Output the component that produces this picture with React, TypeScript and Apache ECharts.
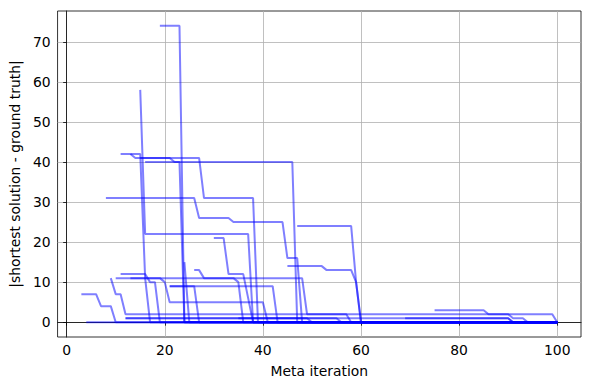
import React, { useEffect, useRef } from 'react';
import * as echarts from 'echarts';

const xTicks = [0, 20, 40, 60, 80, 100];
const yTicks = [0, 10, 20, 30, 40, 50, 60, 70];
const xName = 'Meta iteration';
const yName = '|shortest solution - ground truth|';

const run01 = [[19, 74], [23, 74], [24, 0], [100, 0]];
const run02 = [[15, 58], [16, 22], [37, 22], [38, 0], [100, 0]];
const run03 = [[11, 42], [15, 42], [16, 11], [17, 0], [100, 0]];
const run04 = [[13, 42], [14, 41], [21, 41], [22, 40], [23, 40], [24, 0], [100, 0]];
const run05 = [[15, 41], [27, 41], [28, 31], [38, 31], [39, 0], [100, 0]];
const run06 = [[16, 40], [46, 40], [47, 0], [100, 0]];
const run07 = [[8, 31], [26, 31], [27, 26], [33, 26], [34, 25], [44, 25], [45, 16], [47, 16], [48, 0], [100, 0]];
const run08 = [[47, 24], [58, 24], [59, 10], [60, 0], [100, 0]];
const run09 = [[45, 14], [52, 14], [53, 13], [58, 13], [59, 10], [60, 0], [100, 0]];
const run10 = [[30, 21], [32, 21], [33, 12], [36, 12], [37, 6], [38, 0], [100, 0]];
const run11 = [[26, 13], [27, 13], [28, 11], [34, 11], [35, 10], [36, 0], [100, 0]];
const run12 = [[21, 9], [42, 9], [43, 0], [100, 0]];
const run13 = [[13, 11], [19, 11], [20, 10], [21, 5], [40, 5], [41, 0], [100, 0]];
const run14 = [[10, 11], [48, 11], [49, 2], [57, 2], [58, 0], [100, 0]];
const run15 = [[11, 12], [16, 12], [17, 10], [18, 10], [19, 0], [100, 0]];
const run16 = [[3, 7], [6, 7], [7, 4], [9, 4], [10, 0], [100, 0]];
const run17 = [[4, 0], [100, 0]];
const run18 = [[9, 11], [10, 7], [11, 7], [12, 2], [99, 2], [100, 0]];
const run19 = [[12, 1], [55, 1], [56, 0], [100, 0]];
const run20 = [[69, 1], [90, 1], [91, 0], [100, 0]];
const run21 = [[75, 3], [85, 3], [86, 2], [90, 2], [91, 1], [93, 1], [94, 0], [100, 0]];
const run22 = [[24, 15], [25, 0], [100, 0]];
const run23 = [[21, 9], [26, 9], [27, 0], [100, 0]];
const run24 = [[35, 1], [49, 1], [50, 0], [100, 0]];
const run25 = [[12, 1], [90, 1], [91, 0], [100, 0]];

const runs = [
  run01, run02, run03, run04, run05, run06, run07, run08, run09, run10,
  run11, run12, run13, run14, run15, run16, run17, run18, run19, run20,
  run21, run22, run23, run24, run25,
];

const FONT = 'DejaVu Sans';

export default function App() {
  const ref = useRef<HTMLDivElement>(null);
  useEffect(() => {
    document.body.style.margin = '0';
    const chart = echarts.init(ref.current!, null, { renderer: 'svg' });
    const labelStyle = { color: '#000', fontSize: 13.9, fontFamily: FONT };
    chart.setOption({
      animation: false,
      backgroundColor: '#fff',
      grid: {
        left: 57, right: 9, top: 11, bottom: 53,
        show: true, borderColor: '#000', borderWidth: 0.8, backgroundColor: 'transparent',
      },
      xAxis: {
        type: 'value',
        min: -1.85,
        max: 104.85,
        name: xName,
        nameLocation: 'middle',
        nameGap: 27,
        nameTextStyle: labelStyle,
        axisLine: { show: true, lineStyle: { color: '#000', width: 0.8 } },
        axisTick: { show: true, length: 3.5, lineStyle: { color: '#000', width: 0.8 }, customValues: xTicks },
        axisLabel: { ...labelStyle, margin: 6, customValues: xTicks },
        splitLine: { show: true, lineStyle: { color: '#b0b0b0', width: 0.8 } },
      },
      yAxis: {
        type: 'value',
        min: -3.7,
        max: 77.7,
        name: yName,
        nameLocation: 'middle',
        nameGap: 32,
        nameRotate: 90,
        nameTextStyle: labelStyle,
        axisLine: { show: true, lineStyle: { color: '#000', width: 0.8 } },
        axisTick: { show: true, length: 3.5, lineStyle: { color: '#000', width: 0.8 }, customValues: yTicks },
        axisLabel: { ...labelStyle, margin: 7, customValues: yTicks },
        splitLine: { show: true, lineStyle: { color: '#b0b0b0', width: 0.8 } },
      },
      series: runs.map((r, i) => ({
        name: 'run' + (i + 1),
        type: 'line',
        data: r,
        showSymbol: false,
        symbol: 'none',
        silent: true,
        lineStyle: { color: '#0000ff', width: 2, opacity: 0.5 },
      })),
    });
    return () => chart.dispose();
  }, []);
  return <div ref={ref} style={{ width: 590, height: 390 }} />;
}
